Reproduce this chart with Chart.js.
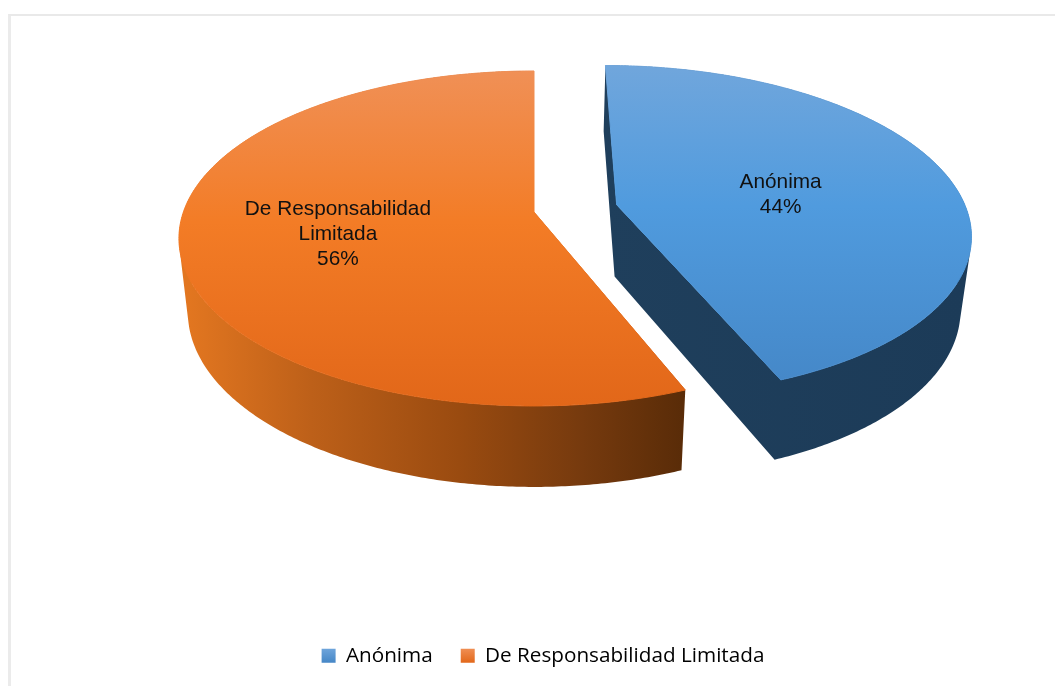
<!DOCTYPE html>
<html><head><meta charset="utf-8">
<style>html,body{margin:0;padding:0;background:#fff;overflow:hidden}
#wrap{position:relative;width:1055px;height:686px}
#frame{position:absolute;left:8px;top:14px;right:0;bottom:0;border-left:3px solid #ebebeb;border-top:2px solid #e9e9e9;pointer-events:none}
canvas{position:absolute;left:0;top:0}</style>
<script src="https://cdn.jsdelivr.net/npm/chart.js@4/dist/chart.umd.js"></script>
</head><body><div id="wrap"><canvas id="c" width="1055" height="686"></canvas><div id="frame"></div></div>
<script>
const categories = ['Anónima', 'De Responsabilidad Limitada'];
const shares = [44, 56];
const labelLines = [['Anónima', '44%'], ['De Responsabilidad', 'Limitada', '56%']];
const baseColors = ['#5B9BD5', '#ED7D31'];

// View of the tilted pie (perspective projection of the library's arcs)
const view = {cx: 534, cy: 212, bx: 350.6, by: 163.3, k: 0.158};
function project(u, v) {
  const s = 1 / (1 - view.k * v);
  return [view.cx + view.bx * u * s, view.cy + view.by * v * s];
}
function lower(p) { return [view.cx + (p[0] - view.cx) * 0.975, p[1] * 1.045 + 62.7]; }
function addPoly(ctx, pts) {
  let area = 0;
  pts.forEach((p, i) => { const q = pts[(i + 1) % pts.length]; area += p[0] * q[1] - q[0] * p[1]; });
  const list = area < 0 ? pts.slice().reverse() : pts;
  list.forEach((p, i) => i ? ctx.lineTo(p[0], p[1]) : ctx.moveTo(p[0], p[1]));
  ctx.closePath();
}
function grad(ctx, x0, y0, x1, y1, stops) {
  const g = ctx.createLinearGradient(x0, y0, x1, y1);
  stops.forEach(s => g.addColorStop(s[0], s[1]));
  return g;
}
function arcPoints(arc) {
  const a0 = arc.startAngle, a1 = arc.endAngle, mid = (a0 + a1) / 2;
  const off = (arc.options.offset || 0) / arc.outerRadius;
  const ox = Math.cos(mid) * off, oy = Math.sin(mid) * off;
  const n = Math.ceil((a1 - a0) / 0.01), rim = [];
  for (let i = 0; i <= n; i++) {
    const a = a0 + (a1 - a0) * i / n;
    rim.push(project(ox + Math.cos(a), oy + Math.sin(a)));
  }
  return {rim, tip: project(ox, oy), ox, oy, mid};
}
const pie3d = {
  id: 'pie3d',
  beforeDatasetsDraw(chart) {
    const ctx = chart.ctx, arcs = chart.getDatasetMeta(0).data;
    const tops = [
      grad(ctx, 0, 66, 0, 400, [[0, '#70A6DC'], [0.42, '#509BDE'], [1, '#4486C6']]),
      grad(ctx, 0, 71, 0, 406, [[0, '#F09056'], [0.45, '#F37C26'], [1, '#E26719']])
    ];
    const sides = [
      grad(ctx, 600, 0, 965, 0, [[0, '#1F3F5C'], [1, '#1C3B58']]),
      grad(ctx, 188, 0, 681, 0, [[0, '#E27620'], [0.25, '#BD6019'], [0.55, '#9A4B10'], [0.8, '#763A0E'], [1, '#5A2C08']])
    ];
    arcs.forEach((arc, i) => {
      const g = arcPoints(arc), r = g.rim, tipL = lower(g.tip);
      ctx.save();
      ctx.fillStyle = sides[i];
      ctx.beginPath();
      [r[0], r[r.length - 1]].forEach(e => addPoly(ctx, [g.tip, e, lower(e), tipL]));
      for (let j = 0; j < r.length - 1; j++) {
        addPoly(ctx, [r[j], r[j + 1], lower(r[j + 1]), lower(r[j])]);
      }
      ctx.fill('nonzero');
      ctx.fillStyle = tops[i]; ctx.strokeStyle = tops[i]; ctx.lineWidth = 1;
      ctx.beginPath();
      addPoly(ctx, [g.tip].concat(r));
      ctx.fill(); ctx.stroke();
      ctx.restore();
    });
    return false;
  },
  afterDraw(chart) {
    const ctx = chart.ctx, arcs = chart.getDatasetMeta(0).data;
    const reach = [0.49, 0.56];
    ctx.save();
    ctx.fillStyle = '#111';
    ctx.font = '20.8px "Liberation Sans", Arial, sans-serif';
    ctx.textAlign = 'center';
    ctx.textBaseline = 'middle';
    arcs.forEach((arc, i) => {
      const g = arcPoints(arc);
      const p = project(g.ox + Math.cos(g.mid) * reach[i], g.oy + Math.sin(g.mid) * reach[i]);
      const lines = labelLines[i], lh = 25;
      lines.forEach((t, j) => ctx.fillText(t, p[0], p[1] + 4.5 + (j - (lines.length - 1) / 2) * lh));
    });
    ctx.restore();
  }
};
new Chart(document.getElementById('c'), {
  type: 'pie',
  data: {labels: categories, datasets: [{data: shares, backgroundColor: baseColors, borderWidth: 0, offset: [72.5, 0]}]},
  plugins: [pie3d],
  options: {
    responsive: false, animation: false, radius: 300,
    layout: {padding: {left: 31, bottom: 10}},
    plugins: {
      tooltip: {enabled: false},
      legend: {
        position: 'bottom',
        labels: {
          boxWidth: 14, boxHeight: 14, padding: 28, color: '#111',
          font: {family: '"Open Sans", sans-serif', size: 20.7},
          generateLabels(chart) {
            const ctx = chart.ctx;
            const ramps = [['#70A6DC', '#4486C6'], ['#F09056', '#E26719']];
            return categories.map((t, i) => {
              const g = ctx.createLinearGradient(0, 648, 0, 663);
              g.addColorStop(0, ramps[i][0]); g.addColorStop(1, ramps[i][1]);
              return {text: t, fillStyle: g, strokeStyle: g, lineWidth: 0, index: i, hidden: false};
            });
          }
        }
      }
    }
  }
});
</script></body></html>
